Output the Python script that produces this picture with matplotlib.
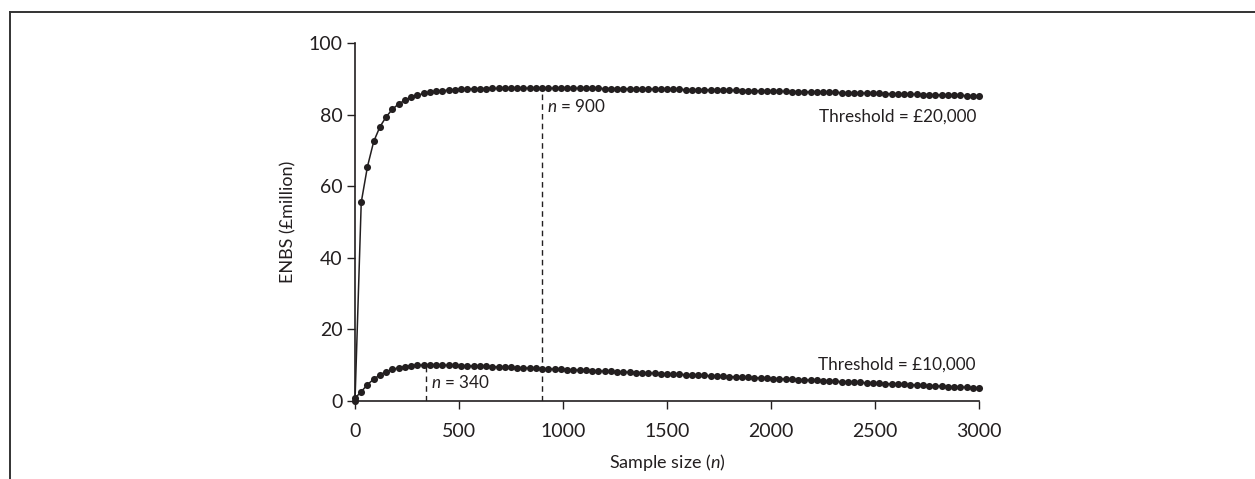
import matplotlib
matplotlib.use("Agg")
import matplotlib.pyplot as plt
from matplotlib.lines import Line2D

plt.rcParams['font.family'] = ['Lato', 'DejaVu Sans']
plt.rcParams['mathtext.fontset'] = 'custom'
plt.rcParams['mathtext.rm'] = 'Lato'
plt.rcParams['mathtext.it'] = 'Lato:italic'

# Sample sizes 0..3000 step 30
sample_n = list(range(0, 3001, 30))

enbs_20k = [
    0.0, 55.5, 65.5, 72.5, 76.6, 79.4, 81.5, 83.0, 84.0, 84.8,
    85.4, 85.9, 86.2, 86.5, 86.7, 86.85, 87.0, 87.1, 87.15, 87.2,
    87.25, 87.28, 87.3, 87.32, 87.34, 87.35, 87.36, 87.37, 87.37, 87.38,
    87.38, 87.38, 87.37, 87.37, 87.36, 87.35, 87.34, 87.33, 87.32, 87.3,
    87.29, 87.27, 87.25, 87.23, 87.21, 87.19, 87.17, 87.15, 87.12, 87.1,
    87.07, 87.05, 87.02, 86.99, 86.96, 86.93, 86.9, 86.87, 86.84, 86.81,
    86.78, 86.75, 86.72, 86.68, 86.65, 86.62, 86.58, 86.55, 86.51, 86.48,
    86.44, 86.4, 86.37, 86.33, 86.29, 86.26, 86.22, 86.18, 86.14, 86.1,
    86.06, 86.02, 85.98, 85.94, 85.9, 85.86, 85.82, 85.78, 85.74, 85.7,
    85.66, 85.61, 85.57, 85.53, 85.49, 85.44, 85.4, 85.36, 85.31, 85.27,
    85.22,
]

enbs_10k = [
    0.8, 2.6, 4.6, 6.1, 7.3, 8.2, 8.8, 9.3, 9.6, 9.85,
    9.98, 10.05, 10.07, 10.05, 10.02, 9.98, 9.93, 9.88, 9.83, 9.77,
    9.71, 9.65, 9.59, 9.52, 9.46, 9.39, 9.32, 9.25, 9.18, 9.11,
    9.04, 8.97, 8.90, 8.83, 8.76, 8.69, 8.62, 8.55, 8.48, 8.40,
    8.33, 8.26, 8.18, 8.11, 8.04, 7.96, 7.89, 7.81, 7.74, 7.66,
    7.59, 7.51, 7.44, 7.36, 7.29, 7.21, 7.13, 7.06, 6.98, 6.90,
    6.83, 6.75, 6.67, 6.59, 6.52, 6.44, 6.36, 6.28, 6.20, 6.12,
    6.05, 5.97, 5.89, 5.81, 5.73, 5.65, 5.57, 5.49, 5.41, 5.33,
    5.25, 5.17, 5.09, 5.01, 4.93, 4.85, 4.77, 4.69, 4.61, 4.53,
    4.45, 4.37, 4.29, 4.21, 4.13, 4.05, 3.97, 3.89, 3.81, 3.73,
    3.65,
]

optimal_n_20k = 900
optimal_val_20k = 87.38
optimal_n_10k = 340
optimal_val_10k = 10.06

x_ticks = [0, 500, 1000, 1500, 2000, 2500, 3000]
y_ticks = [0, 20, 40, 60, 80, 100]

INK = '#231f20'

fig = plt.figure(figsize=(12.55, 4.79), dpi=100)
ax = fig.add_axes([355/1255, 1-401/479, (979-355)/1255, (401-43)/479])

for vals in (enbs_20k, enbs_10k):
    ax.plot(sample_n, vals, color=INK, lw=1.1, marker='o', markersize=5.1,
            markeredgewidth=0, clip_on=False, zorder=3)

ax.plot([optimal_n_20k, optimal_n_20k], [0, optimal_val_20k], color=INK,
        lw=1.0, ls=(0, (4, 3)), zorder=2)
ax.plot([optimal_n_10k, optimal_n_10k], [0, optimal_val_10k], color=INK,
        lw=1.0, ls=(0, (4, 3)), zorder=2)

fs = 12.3
ax.text(optimal_n_20k + 24, 80.7, r'$\it{n}$ = 900', fontsize=fs, color=INK,
        ha='left', va='baseline')
ax.text(optimal_n_10k + 24, 3.6, r'$\it{n}$ = 340', fontsize=fs, color=INK,
        ha='left', va='baseline')
ax.text(2985, 78.0, 'Threshold = £20,000', fontsize=fs, color=INK,
        ha='right', va='baseline')
ax.text(2985, 8.7, 'Threshold = £10,000', fontsize=fs, color=INK,
        ha='right', va='baseline')

ax.set_xlim(0, 3000)
ax.set_ylim(0, 100)
ax.set_xticks(x_ticks)
ax.set_yticks(y_ticks)
ax.set_xticklabels([str(v) for v in x_ticks])
ax.set_yticklabels([str(v) for v in y_ticks])
for s in ('top', 'right'):
    ax.spines[s].set_visible(False)
for s in ('left', 'bottom'):
    ax.spines[s].set_color(INK)
    ax.spines[s].set_linewidth(1.2)
ax.tick_params(direction='out', length=6, width=1.0, color=INK,
               labelsize=14, labelcolor=INK, pad=3)
ax.tick_params(axis='x', pad=10)

ax.set_ylabel('ENBS (£million)', fontsize=13, color=INK)
ax.yaxis.set_label_coords(-0.106, 0.5)
ax.set_xlabel(r'Sample size ($\it{n}$)', fontsize=13, color=INK)
ax.xaxis.set_label_coords(0.5, -0.173)
ax.xaxis.label.set_va('center')
ax.yaxis.label.set_va('center')

# outer frame (top and left edges)
fig.add_artist(Line2D([10/1255, 1.0], [1-12/479, 1-12/479],
                      transform=fig.transFigure, color='#333333', lw=1.4))
fig.add_artist(Line2D([10/1255, 10/1255], [0, 1-12/479],
                      transform=fig.transFigure, color='#333333', lw=1.4))

fig.savefig('out.png', dpi=100, facecolor='white')
